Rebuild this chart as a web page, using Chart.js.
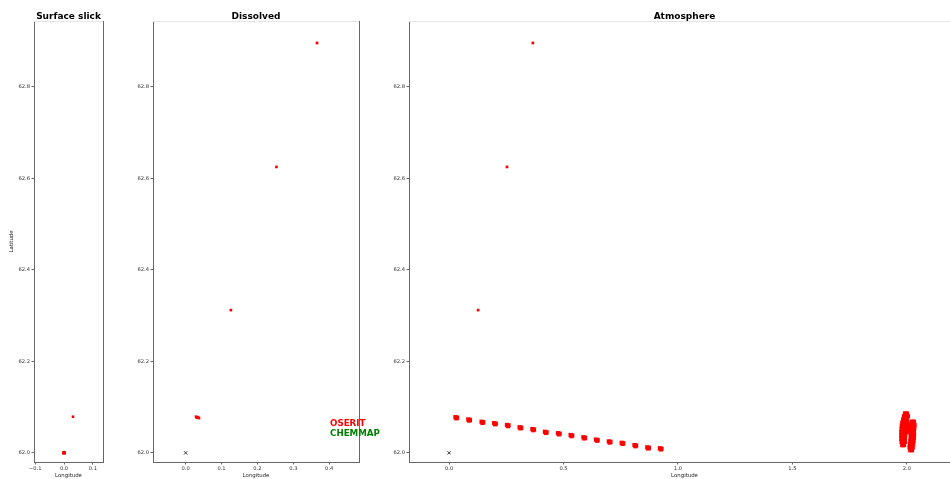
<!DOCTYPE html>
<html><head><meta charset="utf-8">
<script src="https://cdn.jsdelivr.net/npm/chart.js@4"></script>
<style>
html,body{margin:0;padding:0;background:#fff;overflow:hidden;width:950px;height:479px;}
#wrap{position:relative;width:950px;height:479px;overflow:hidden;background:#fff;}
canvas{position:absolute;left:0;top:0;}
</style></head><body>
<div id="wrap">
<canvas id="c1" width="950" height="479"></canvas>
<canvas id="c2" width="950" height="479"></canvas>
<canvas id="c3" width="970" height="479"></canvas>
</div>
<script>
// ---------- data ----------
const panelTitles = ["Surface slick", "Dissolved", "Atmosphere"];
const xAxisTitle = "Longitude";
const yAxisTitle = "Latitude";
const models = ["OSERIT", "CHEMMAP"];
const modelColors = ["#ff0000", "#008000"];

const yTicks = [62.0, 62.2, 62.4, 62.6, 62.8];
const xTicksSlick = [-0.1, 0.0, 0.1];
const xTicksDiss = [0.0, 0.1, 0.2, 0.3, 0.4];
const xTicksAtm = [0.0, 0.5, 1.0, 1.5, 2.0];

// release location (CHEMMAP origin marker)
const originLon = [0.0];
const originLat = [62.0];

// Surface slick (OSERIT)
const slickLon = [0.0, 0.031];
const slickLat = [62.0, 62.079];
const slickSize = [3.8, 2.6];

// Dissolved (OSERIT)
const dissLon = [0.029, 0.034, 0.037, 0.031, 0.126, 0.253, 0.366];
const dissLat = [62.079, 62.078, 62.076, 62.077, 62.312, 62.625, 62.896];

// Atmosphere (OSERIT) - isolated particles
const atmLoneLon = [0.127, 0.253, 0.366];
const atmLoneLat = [62.312, 62.625, 62.896];

// Atmosphere (OSERIT) - chain of puffs
const atmChainLon = [
  0.028,0.035,0.032, 0.084,0.091,0.088, 0.142,0.149,0.146, 0.197,0.204,0.201,
  0.253,0.260,0.257, 0.308,0.315,0.312, 0.364,0.371,0.368, 0.419,0.426,0.423,
  0.476,0.483,0.480, 0.531,0.538,0.535, 0.587,0.594,0.591, 0.642,0.649,0.646,
  0.698,0.705,0.702, 0.754,0.761,0.758, 0.810,0.817,0.814, 0.866,0.873,0.870,
  0.921,0.928,0.925];
const atmChainLat = [
  62.078,62.077,62.0755, 62.073,62.072,62.0705, 62.068,62.067,62.0655, 62.065,62.064,62.0625,
  62.061,62.060,62.0585, 62.056,62.055,62.0535, 62.052,62.051,62.0495, 62.046,62.045,62.0435,
  62.043,62.042,62.0405, 62.039,62.038,62.0365, 62.034,62.033,62.0315, 62.029,62.028,62.0265,
  62.025,62.024,62.0225, 62.022,62.021,62.0195, 62.017,62.016,62.0145, 62.012,62.011,62.0095,
  62.010,62.009,62.0075];

// Atmosphere (OSERIT) - cluster near lon 2.0
const atmClusterLon = [
  1.992,2.000, 1.988,1.996,2.004, 1.984,1.992,2.000, 1.980,1.988,1.996,2.003,
  1.978,1.986,1.994,2.001, 1.977,1.985,1.993,2.000, 1.976,1.984,1.992,1.999,
  1.976,1.984,1.992, 1.976,1.984,1.991, 1.977,1.985,1.991, 1.980,1.987,
  2.022,2.030, 2.018,2.026,2.033, 2.016,2.024,2.032, 2.014,2.022,2.030,
  2.017,2.024,2.031, 2.017,2.024,2.030, 2.015,2.022,2.029, 2.013,2.020,2.027,
  2.012,2.019,2.025, 2.015,2.022];
const atmClusterLat = [
  62.086,62.086, 62.080,62.080,62.080, 62.073,62.073,62.073, 62.066,62.066,62.066,62.066,
  62.059,62.059,62.059,62.059, 62.052,62.052,62.052,62.052, 62.045,62.045,62.045,62.045,
  62.038,62.038,62.038, 62.031,62.031,62.031, 62.024,62.024,62.024, 62.017,62.017,
  62.068,62.068, 62.061,62.061,62.061, 62.054,62.054,62.054, 62.047,62.047,62.047,
  62.040,62.040,62.040, 62.033,62.033,62.033, 62.026,62.026,62.026, 62.019,62.019,62.019,
  62.012,62.012,62.012, 62.006,62.006];

// ---------- helpers ----------
const pts = (xs, ys) => xs.map((x, i) => ({x: x, y: ys[i]}));
const fmt = v => (Math.abs(v) < 1e-9 ? 0 : v).toFixed(1).replace('-', '\u2212');
Chart.defaults.font.family = '"DejaVu Sans", sans-serif';
Chart.defaults.animation = false;

const decor = {
  id: 'decor',
  afterDraw(chart, args, o) {
    const {ctx, chartArea: a} = chart;
    ctx.save();
    ctx.lineWidth = 1;
    ctx.strokeStyle = '#e6e6e6';
    ctx.beginPath(); ctx.moveTo(a.left, a.top + 0.5); ctx.lineTo(a.right, a.top + 0.5); ctx.stroke();
    if (o.rightSpine) {
      ctx.strokeStyle = '#666';
      ctx.beginPath(); ctx.moveTo(Math.round(a.right) + 0.5, a.top); ctx.lineTo(Math.round(a.right) + 0.5, a.bottom); ctx.stroke();
    }
    ctx.fillStyle = '#000';
    ctx.font = 'bold 9px "DejaVu Sans"';
    ctx.textAlign = 'center';
    ctx.textBaseline = 'alphabetic';
    ctx.fillText(o.title, (a.left + a.right) / 2, 18.5);
    if (o.legend) {
      ctx.font = 'bold 8.7px "DejaVu Sans"';
      ctx.textAlign = 'left';
      models.forEach((m, i) => {
        ctx.fillStyle = modelColors[i];
        ctx.fillText(m, o.legend.x, o.legend.y + i * 9.5);
      });
    }
    ctx.restore();
  }
};

function makeChart(id, cfg) {
  const yW = 26, xH = 17;
  return new Chart(document.getElementById(id), {
    type: 'scatter',
    data: {datasets: cfg.datasets},
    options: {
      responsive: false,
      maintainAspectRatio: false,
      devicePixelRatio: 1,
      animation: false,
      events: [],
      layout: {padding: {left: cfg.left - yW, right: cfg.canvasW - cfg.right, top: 21, bottom: 0}},
      plugins: {
        legend: {display: false}, tooltip: {enabled: false}, title: {display: false},
        decor: {title: cfg.title, rightSpine: cfg.rightSpine, legend: cfg.legend}
      },
      scales: {
        x: {
          type: 'linear', min: cfg.xmin, max: cfg.xmax,
          afterFit: s => { s.height = xH; },
          afterBuildTicks: s => { s.ticks = cfg.xTicks.map(v => ({value: v})); },
          ticks: {callback: v => fmt(v), font: {size: 5.2}, color: '#333', padding: 1.5, maxRotation: 0, autoSkip: false},
          grid: {drawOnChartArea: false, drawTicks: true, tickLength: 2.5, tickColor: '#666'},
          border: {display: true, color: '#666', width: 1},
          title: {display: true, text: xAxisTitle, font: {size: 5.4}, color: '#222', padding: {top: 0, bottom: 0}}
        },
        y: {
          type: 'linear', min: 61.98, max: 62.944,
          afterFit: s => { s.width = yW; },
          afterBuildTicks: s => { s.ticks = yTicks.map(v => ({value: v})); },
          ticks: {callback: v => fmt(v), font: {size: 5.2}, color: '#333', padding: 1.5, autoSkip: false},
          grid: {drawOnChartArea: false, drawTicks: true, tickLength: 2.5, tickColor: '#666'},
          border: {display: true, color: '#666', width: 1},
          title: {display: cfg.showYTitle, text: yAxisTitle, font: {size: 5.4}, color: '#222', padding: {top: 0, bottom: 0}}
        }
      }
    },
    plugins: [decor]
  });
}

const redSet = (xs, ys, r) => ({data: pts(xs, ys), pointStyle: 'rect', pointRadius: r, backgroundColor: modelColors[0], borderWidth: 0});
const originSet = () => ({data: pts(originLon, originLat), pointStyle: 'crossRot', pointRadius: 2.3, borderColor: '#222', borderWidth: 0.9, backgroundColor: '#222'});

makeChart('c1', {
  canvasW: 950, left: 34, right: 103, xmin: -0.104, xmax: 0.135, xTicks: xTicksSlick,
  title: panelTitles[0], rightSpine: true, showYTitle: true,
  datasets: [{data: pts(slickLon, slickLat), pointStyle: 'rect', pointRadius: slickSize.map(s => s / Math.SQRT2), backgroundColor: modelColors[0], borderWidth: 0}]
});
makeChart('c2', {
  canvasW: 950, left: 153, right: 359, xmin: -0.091, xmax: 0.483, xTicks: xTicksDiss,
  title: panelTitles[1], rightSpine: true, showYTitle: false, legend: {x: 330, y: 426},
  datasets: [originSet(), redSet(dissLon, dissLat, 1.9)]
});
makeChart('c3', {
  canvasW: 970, left: 409, right: 960, xmin: -0.175, xmax: 2.232, xTicks: xTicksAtm,
  title: panelTitles[2], rightSpine: false, showYTitle: false,
  datasets: [originSet(), redSet(atmLoneLon, atmLoneLat, 1.9), redSet(atmChainLon, atmChainLat, 3.0), redSet(atmClusterLon, atmClusterLat, 3.1)]
});
</script>
</body></html>
